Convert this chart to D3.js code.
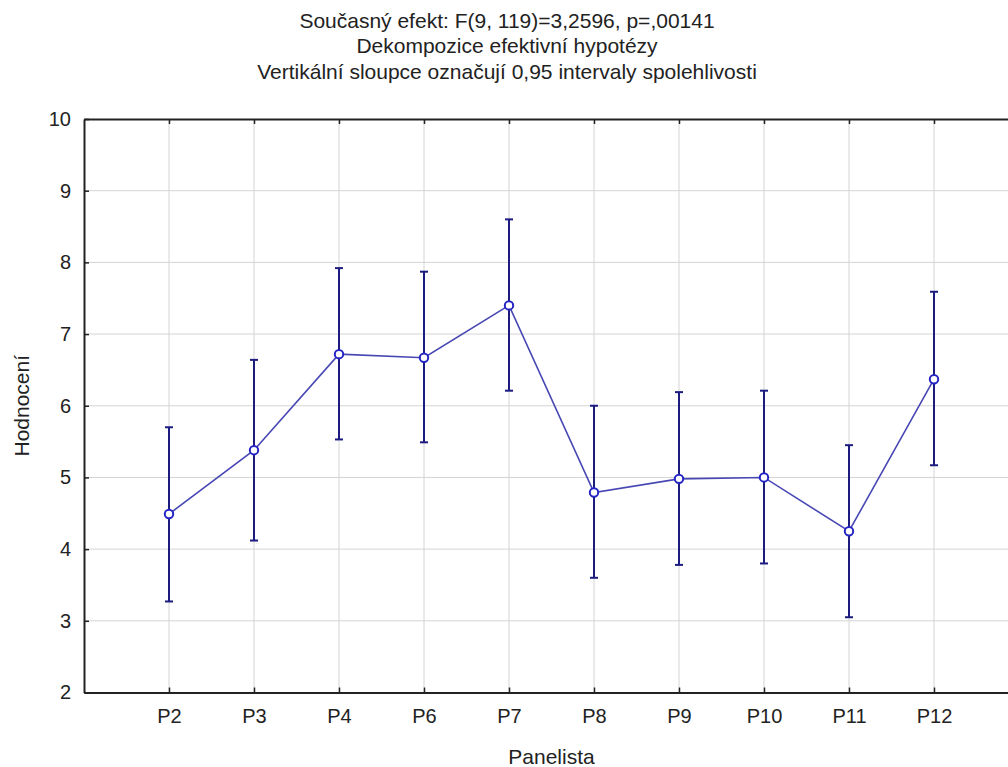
<!DOCTYPE html>
<html>
<head>
<meta charset="utf-8">
<script src="https://cdn.jsdelivr.net/npm/d3@7"></script>
<style>
  body { margin: 0; background: #fff; }
  text { font-family: "Liberation Sans", Arial, sans-serif; fill: #222; }
</style>
</head>
<body>
<svg id="chart" width="1008" height="767"></svg>
<script>
    // data
    var panelists = ["P2", "P3", "P4", "P6", "P7", "P8", "P9", "P10", "P11", "P12"];
    var means = [4.49, 5.38, 6.72, 6.67, 7.40, 4.79, 4.98, 5.00, 4.25, 6.37];
    var lower = [3.27, 4.12, 5.53, 5.49, 6.21, 3.60, 3.78, 3.80, 3.05, 5.17];
    var upper = [5.70, 6.64, 7.92, 7.87, 8.60, 6.00, 6.19, 6.21, 5.45, 7.59];
    var yTicks = [2, 3, 4, 5, 6, 7, 8, 9, 10];

    var titleLines = [
        "Současný efekt: F(9, 119)=3,2596, p=,00141",
        "Dekompozice efektivní hypotézy",
        "Vertikální sloupce označují 0,95 intervaly spolehlivosti"
    ];

    var svg = d3.select("#chart"),
        width = +svg.attr("width"),
        height = +svg.attr("height");

    // plot box (right edge lies just outside the picture)
    var plotL = 84, plotT = 119, plotR = 1019, plotB = 692.5;

    var rows = panelists.map(function (p, i) {
        return {name: p, mean: means[i], lo: lower[i], hi: upper[i]};
    });

    var x = d3.scalePoint()
        .domain(panelists)
        .range([plotL, plotR])
        .padding(1);

    var y = d3.scaleLinear()
        .domain([2, 10])
        .range([plotB, plotT]);

    //mřížka//
    svg.append("g")
        .selectAll("line")
        .data(yTicks.filter(function (t) {return t > 2 && t < 10;}))
        .enter()
        .append("line")
        .attr("x1", plotL).attr("x2", plotR)
        .attr("y1", function (d) {return y(d);})
        .attr("y2", function (d) {return y(d);})
        .style("stroke", "#d4d4d4")
        .style("stroke-width", 1);

    svg.append("g")
        .selectAll("line")
        .data(panelists)
        .enter()
        .append("line")
        .attr("x1", function (d) {return x(d);})
        .attr("x2", function (d) {return x(d);})
        .attr("y1", plotT).attr("y2", plotB)
        .style("stroke", "#d4d4d4")
        .style("stroke-width", 1);

    // axes (ticks pointing inward)
    var yAxis = svg.append("g")
        .attr("transform", "translate(" + plotL + ",0)")
        .call(d3.axisLeft(y).tickValues(yTicks).tickSizeInner(-5).tickSizeOuter(0).tickPadding(13));

    var xAxis = svg.append("g")
        .attr("transform", "translate(0," + plotB + ")")
        .call(d3.axisBottom(x).tickSizeInner(-5).tickSizeOuter(0).tickPadding(16));

    var topAxis = svg.append("g")
        .attr("transform", "translate(0," + plotT + ")")
        .call(d3.axisTop(x).tickSizeInner(-5).tickSizeOuter(0).tickFormat(""));

    var rightAxis = svg.append("g")
        .attr("transform", "translate(" + plotR + ",0)")
        .call(d3.axisRight(y).tickValues(yTicks).tickSizeInner(-5).tickSizeOuter(0).tickFormat(""));

    [yAxis, xAxis, topAxis, rightAxis].forEach(function (a) {
        a.select(".domain").style("stroke", "#222").style("stroke-width", 2);
        a.selectAll(".tick line").style("stroke", "#222").style("stroke-width", 1.5);
        a.selectAll(".tick text")
            .style("font-family", "'Liberation Sans', Arial, sans-serif")
            .style("font-size", "20px")
            .style("fill", "#222");
    });

    //spojnice průměrů//
    var line = d3.line()
        .x(function (d) {return x(d.name);})
        .y(function (d) {return y(d.mean);});

    svg.append("path")
        .datum(rows)
        .attr("d", line)
        .style("fill", "none")
        .style("stroke", "#4848b4")
        .style("stroke-width", 1.6);

    //intervaly spolehlivosti//
    var bars = svg.append("g")
        .selectAll("g")
        .data(rows)
        .enter()
        .append("g")
        .style("stroke", "#1c1c80")
        .style("stroke-width", 2);

    bars.append("line")
        .attr("x1", function (d) {return x(d.name);})
        .attr("x2", function (d) {return x(d.name);})
        .attr("y1", function (d) {return y(d.lo);})
        .attr("y2", function (d) {return y(d.hi);});

    bars.append("line")
        .attr("x1", function (d) {return x(d.name) - 4;})
        .attr("x2", function (d) {return x(d.name) + 4;})
        .attr("y1", function (d) {return y(d.hi);})
        .attr("y2", function (d) {return y(d.hi);});

    bars.append("line")
        .attr("x1", function (d) {return x(d.name) - 4;})
        .attr("x2", function (d) {return x(d.name) + 4;})
        .attr("y1", function (d) {return y(d.lo);})
        .attr("y2", function (d) {return y(d.lo);});

    svg.append("g")
        .selectAll("circle")
        .data(rows)
        .enter()
        .append("circle")
        .attr("cx", function (d) {return x(d.name);})
        .attr("cy", function (d) {return y(d.mean);})
        .attr("r", 4.2)
        .style("fill", "#fff")
        .style("stroke", "#2424c4")
        .style("stroke-width", 2);

    //nadpis//
    svg.append("g")
        .selectAll("text")
        .data(titleLines)
        .enter()
        .append("text")
        .attr("x", 507)
        .attr("y", function (d, i) {return 27.5 + i * 25.5;})
        .attr("text-anchor", "middle")
        .style("font-size", "21px")
        .text(function (d) {return d;});

    svg.append("text")
        .attr("x", (plotL + plotR) / 2)
        .attr("y", 764)
        .attr("text-anchor", "middle")
        .style("font-size", "21px")
        .text("Panelista");

    svg.append("text")
        .attr("transform", "translate(29," + ((plotT + plotB) / 2) + ") rotate(-90)")
        .attr("text-anchor", "middle")
        .style("font-size", "21px")
        .text("Hodnocení");
</script>
</body>
</html>
